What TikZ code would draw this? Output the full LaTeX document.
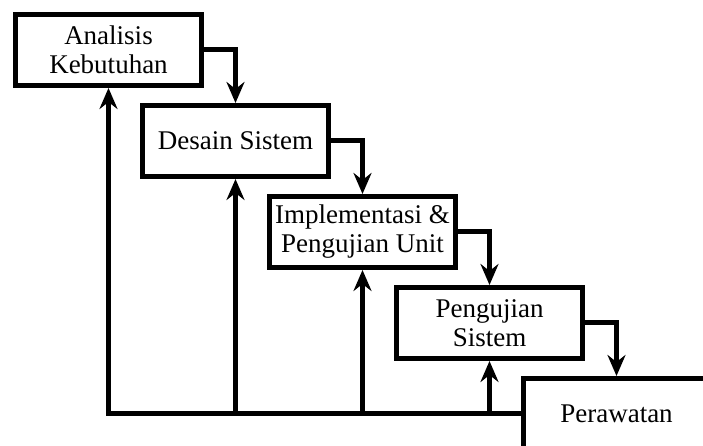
\documentclass[tikz,border=0pt]{standalone}
\usepackage{fontspec}
\setmainfont{Liberation Serif}
\usepackage{tikz}
\usetikzlibrary{arrows.meta, positioning}
\tikzstyle{block} = [rectangle, draw, line width=5pt, fill=white, align=center, minimum width=186pt, minimum height=71pt, font=\fontsize{27}{29}\selectfont]
\tikzstyle{arrow} = [line width=5pt, -{Stealth[length=21pt, width=18pt, inset=7pt]}]

\begin{document}
\begin{tikzpicture}[x=1pt, y=1pt]
  \useasboundingbox (0,0) rectangle (703,446);
  \clip (0,0) rectangle (703,446);
  \node[block] (analisis) at (108.5,396) {Analisis\\Kebutuhan};
  \node[block, below right=15pt and -64pt of analisis] (desain) {Desain Sistem};
  \node[block, below right=15pt and -64pt of desain] (impl) {Implementasi \&\\Pengujian Unit};
  \node[block, below right=15pt and -64pt of impl] (ujisis) {Pengujian\\Sistem};
  \node[block, below right=15pt and -64pt of ujisis] (rawat) {Perawatan};
  % tahap berikutnya
  \draw[arrow] (analisis.east) -| (desain.north);
  \draw[arrow] (desain.east) -| (impl.north);
  \draw[arrow] (impl.east) -| (ujisis.north);
  \draw[arrow] (ujisis.east) -| (rawat.north);
  % umpan balik
  \draw[arrow] (rawat.west) -| (analisis.south);
  \draw[arrow] (rawat.west) -| (desain.south);
  \draw[arrow] (rawat.west) -| (impl.south);
  \draw[arrow] (rawat.west) -| (ujisis.south);
\end{tikzpicture}
\end{document}
